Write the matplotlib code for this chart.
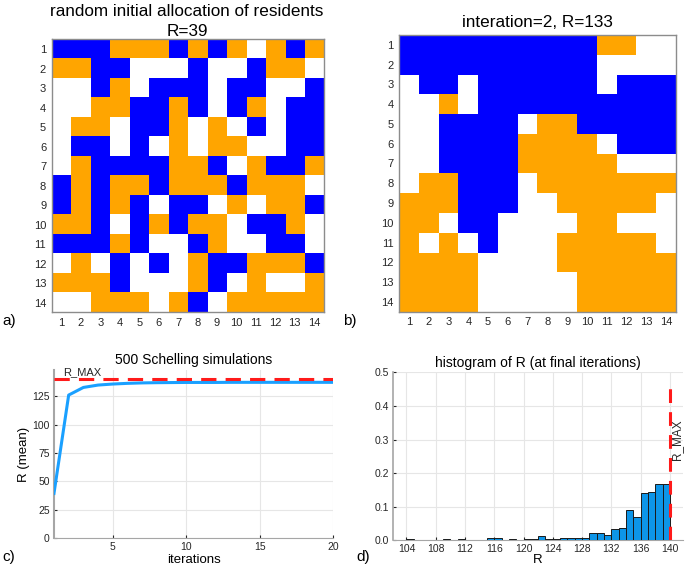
import numpy as np
import matplotlib
matplotlib.use("Agg")
import matplotlib.pyplot as plt
from matplotlib.colors import ListedColormap

plt.rcParams['font.family'] = ['Liberation Sans', 'DejaVu Sans']

# ---------------- data ----------------
# W = empty, B = blue resident, O = orange resident
grid_initial = [
    "BBBOOOBOBOWOBO",
    "OOBBWWWBWWBOOW",
    "WWBOWBBBWBBWWB",
    "WWOOBBOBWBOWBB",
    "WOOWBBOWOWBWBB",
    "WBBWBWOWOOWWBB",
    "WOBBBBOOBWOBBO",
    "BOBOOBOOOBOOOW",
    "BOBOBWBBWOWOOB",
    "OOBWBOBOOWBBOW",
    "BBBOBWWBOWWBBW",
    "WOWBWBWOBBOOOB",
    "OOOBWWWOBWOWWO",
    "WWOOOWOBWOOOOO",
]
grid_iter2 = [
    "BBBBBBBBBBOOWW",
    "BBBBBBBBBBWWWW",
    "WBBWBBBBBBWBBB",
    "WWOWBBBBBBBBBB",
    "WWBBBBWOOBBBBB",
    "WWBBBBOOOOWBBB",
    "WWBBBBOOOOOWWW",
    "WOOBBBWOOOOOOO",
    "OOOBBBWWOOOOOW",
    "OOWBBWWWWOOWWW",
    "OWOWBWWWOOOOOW",
    "OOOOWWWWOOOOOO",
    "OOOOWWWWWOOOOO",
    "OOOOWWWWWOOOOO",
]
title_a_line1 = "random initial allocation of residents"
title_a_line2 = "R=39"
title_b = "interation=2, R=133"

iterations = [1, 2, 3, 4, 5, 6, 7, 8, 9, 10, 11, 12, 13, 14, 15, 16, 17, 18, 19, 20]
r_mean = [39.5, 126.0, 132.7, 134.8, 135.7, 136.3, 136.7, 136.9, 137.0, 137.1,
          137.1, 137.1, 137.2, 137.2, 137.2, 137.2, 137.2, 137.2, 137.2, 137.2]
r_max = 140

hist_left_edges = [104, 109, 111, 115, 116, 118, 120, 121, 122, 123, 124, 125, 126,
                   127, 128, 129, 130, 131, 132, 133, 134, 135, 136, 137, 138, 139]
hist_prob = [0.004, 0.004, 0.004, 0.008, 0.008, 0.004, 0.004, 0.004, 0.012, 0.004,
             0.004, 0.008, 0.008, 0.008, 0.008, 0.021, 0.021, 0.016, 0.033, 0.037,
             0.091, 0.069, 0.141, 0.145, 0.169, 0.169]

# ---------------- figure ----------------
fig = plt.figure(figsize=(6.85, 5.66), dpi=100)

code = {"W": 0, "B": 1, "O": 2}
cmap = ListedColormap(["#ffffff", "#0000ff", "#ffa500"])


def draw_grid(ax, rows, title, pad):
    arr = np.array([[code[c] for c in r] for r in rows])
    n = arr.shape[0]
    ax.imshow(arr, cmap=cmap, vmin=0, vmax=2, interpolation="nearest",
              extent=(0.5, n + 0.5, n + 0.5, 0.5), aspect="auto")
    ax.set_xticks(range(1, n + 1))
    ax.set_yticks(range(1, n + 1))
    ax.tick_params(length=0, labelsize=8, pad=4, colors="#262626")
    for s in ax.spines.values():
        s.set_color("#8c8c8c")
        s.set_linewidth(1.0)
    ax.set_title(title, fontsize=12.3, pad=pad)


ax_a = fig.add_axes([0.0755, 0.4482, 0.3975, 0.4823])
draw_grid(ax_a, grid_initial, title_a_line2, 2)
fig.text(187 / 685, 1 - 11 / 566, title_a_line1, fontsize=12.3, ha="center", va="center")
ax_b = fig.add_axes([0.5829, 0.4493, 0.4035, 0.4889])
draw_grid(ax_b, grid_iter2, title_b, 6)

# ---- panel c ----
ax_c = fig.add_axes([0.0788, 0.0489, 0.4077, 0.2973])
ax_c.plot(iterations, r_mean, color="#1aa0ff", lw=2.2, zorder=3)
ax_c.axhline(r_max, color="#ff1a1a", lw=2.2, dashes=(5, 3), zorder=4)
ax_c.text(2.9, r_max + 1.8, "R_MAX", ha="center", va="bottom", fontsize=8, color="#262626")
ax_c.set_xlim(1, 20)
ax_c.set_ylim(0, 148)
ax_c.set_xticks([5, 10, 15, 20])
ax_c.set_yticks([0, 25, 50, 75, 100, 125])
ax_c.grid(True, color="#e6e6e6", lw=0.8)
ax_c.set_axisbelow(True)
ax_c.spines["top"].set_visible(False)
ax_c.spines["right"].set_visible(False)
ax_c.spines["left"].set_color("#a6a6a6")
ax_c.spines["left"].set_linewidth(1.5)
ax_c.spines["bottom"].set_color("#a6a6a6")
ax_c.tick_params(direction="in", length=2, labelsize=7.5, colors="#262626", pad=3)
ax_c.set_title("500 Schelling simulations", fontsize=10, pad=4)
ax_c.set_xlabel("iterations", fontsize=9.5, labelpad=1)
ax_c.set_ylabel("R (mean)", fontsize=9.5, labelpad=2)

# ---- panel d ----
ax_d = fig.add_axes([0.5742, 0.0454, 0.4229, 0.2968])
ax_d.bar(hist_left_edges, hist_prob, width=1.0, align="edge", color="#0d95e8",
         edgecolor="#1a1a1a", lw=0.7, zorder=3)
ax_d.plot([r_max, r_max], [0, 0.47], color="#ff1a1a", lw=2.2, dashes=(4.5, 3), zorder=4)
ax_d.text(r_max + 1.0, 0.3, "R_MAX", rotation=90, ha="center", va="center",
          fontsize=8.5, color="#262626")
ax_d.set_xlim(102.2, 141.8)
ax_d.set_ylim(0, 0.5)
ax_d.set_xticks(list(range(104, 141, 4)))
ax_d.set_yticks([0.0, 0.1, 0.2, 0.3, 0.4, 0.5])
ax_d.set_yticklabels(["0.0", "0.1", "0.2", "0.3", "0.4", "0.5"])
ax_d.grid(True, color="#e6e6e6", lw=0.8)
ax_d.set_axisbelow(True)
ax_d.spines["top"].set_visible(False)
ax_d.spines["right"].set_visible(False)
ax_d.spines["left"].set_color("#a6a6a6")
ax_d.spines["left"].set_linewidth(1.2)
ax_d.spines["bottom"].set_color("#a6a6a6")
ax_d.tick_params(direction="in", length=2, labelsize=7.5, colors="#262626", pad=3)
ax_d.set_title("histogram of R (at final iterations)", fontsize=10, pad=4)
ax_d.set_xlabel("R", fontsize=9.5, labelpad=0)

# panel letters
fig.text(2 / 685, 1 - 321 / 566, "a)", fontsize=11, va="center", ha="left")
fig.text(343 / 685, 1 - 321 / 566, "b)", fontsize=11, va="center", ha="left")
fig.text(2 / 685, 1 - 557 / 566, "c)", fontsize=11, va="center", ha="left")
fig.text(356 / 685, 1 - 557 / 566, "d)", fontsize=11, va="center", ha="left")

fig.savefig("out.png", dpi=100)
